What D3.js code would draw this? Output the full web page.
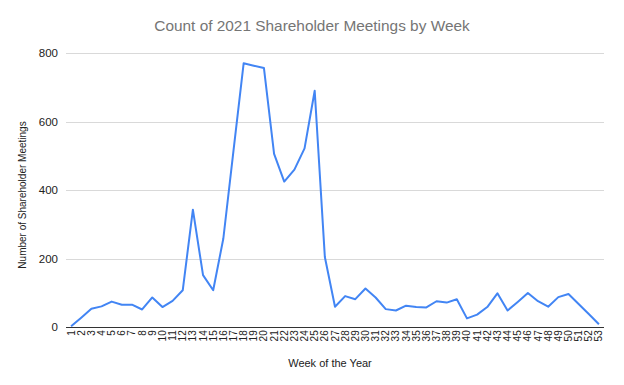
<!DOCTYPE html>
<html>
<head>
<meta charset="utf-8">
<script src="https://cdn.jsdelivr.net/npm/d3@7"></script>
<style>
html,body{margin:0;padding:0;background:#fff;}
svg{display:block;font-family:"Liberation Sans",Arial,sans-serif;}
</style>
</head>
<body>
<svg id="chart" width="624" height="385"></svg>
<script>
const weeks = d3.range(1, 54);
const meetings = [3, 28, 54, 61, 75, 66, 66, 52, 87, 59, 77, 108, 343, 152, 108, 259, 515, 770, 763, 756,
  506, 425, 460, 522, 690, 205, 60, 91, 82, 113, 87, 53, 49, 63, 59, 58, 76, 72, 82, 26,
  37, 59, 99, 49, 74, 100, 76, 60, 88, 97, 68, 39, 9];
const yTicks = [0, 200, 400, 600, 800];
const titleText = "Count of 2021 Shareholder Meetings by Week";
const xLabel = "Week of the Year";
const yLabel = "Number of Shareholder Meetings";

const svg = d3.select("#chart");
const plotLeft = 66, plotRight = 604, plotTop = 53, plotBottom = 327.3;

const x = d3.scaleBand().domain(weeks).range([plotLeft, plotRight]);
const y = d3.scaleLinear().domain([0, 800]).range([plotBottom, plotTop]);

// gridlines
svg.append("g").selectAll("line").data(yTicks.filter(d => d > 0)).join("line")
  .attr("x1", plotLeft).attr("x2", plotRight)
  .attr("y1", d => Math.round(y(d)) + 0.5).attr("y2", d => Math.round(y(d)) + 0.5)
  .attr("stroke", "#d9d9d9").attr("stroke-width", 1);

// y tick labels
svg.append("g").selectAll("text").data(yTicks).join("text")
  .attr("x", 58).attr("y", d => y(d) + 4)
  .attr("text-anchor", "end").attr("font-size", 11.5).attr("fill", "#222")
  .text(d => d);

// line
const line = d3.line().x((d, i) => x(weeks[i]) + x.bandwidth() / 2).y(d => y(d));
svg.append("path").datum(meetings)
  .attr("d", line).attr("fill", "none")
  .attr("stroke", "#4285f4").attr("stroke-width", 2).attr("stroke-linejoin", "round");

// baseline axis
svg.append("line").attr("x1", plotLeft).attr("x2", plotRight)
  .attr("y1", Math.round(plotBottom) + 0.5).attr("y2", Math.round(plotBottom) + 0.5)
  .attr("stroke", "#333").attr("stroke-width", 1);

// x tick labels rotated
svg.append("g").selectAll("text").data(weeks).join("text")
  .attr("transform", d => `translate(${x(d) + x.bandwidth() / 2 + 3.5},${plotBottom + 3}) rotate(-90)`)
  .attr("text-anchor", "end").attr("font-size", 10).attr("fill", "#222")
  .text(d => d);

// title
svg.append("text").attr("x", 312).attr("y", 31).attr("text-anchor", "middle")
  .attr("font-size", 15.4).attr("fill", "#757575").text(titleText);

// x label
svg.append("text").attr("x", 330).attr("y", 367).attr("text-anchor", "middle")
  .attr("font-size", 11).attr("fill", "#222").text(xLabel);

// y label
svg.append("text").attr("transform", "translate(26,195) rotate(-90)")
  .attr("text-anchor", "middle").attr("font-size", 10).attr("fill", "#222").text(yLabel);
</script>
</body>
</html>
